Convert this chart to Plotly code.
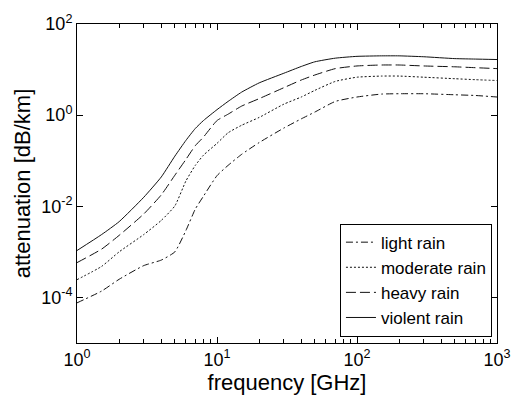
import plotly.graph_objects as go

# Frequency grid [GHz]
freq = [1, 1.5, 2, 3, 4, 5, 6, 7, 8, 10, 12, 15, 20, 30, 40, 50, 70,
        100, 150, 200, 300, 500, 700, 1000]

# Specific attenuation [dB/km] for each rain intensity
light_rain = [7.6e-5, 1.38e-4, 2.5e-4, 5.0e-4, 6.6e-4, 1.0e-3, 2.95e-3, 8.7e-3,
              0.0166, 0.047, 0.079, 0.138, 0.25, 0.52, 0.83, 1.17, 2.0,
              2.5, 2.9, 2.95, 2.95, 2.8, 2.7, 2.5]
moderate_rain = [2.45e-4, 4.8e-4, 1.0e-3, 2.4e-3, 4.9e-3, 0.0102, 0.036, 0.079,
                 0.132, 0.24, 0.41, 0.60, 0.89, 1.74, 2.5, 3.5, 5.5,
                 6.8, 7.2, 7.2, 6.8, 6.3, 6.0, 5.75]
heavy_rain = [5.8e-4, 1.15e-3, 2.3e-3, 6.8e-3, 0.0178, 0.048, 0.107, 0.214,
              0.33, 0.76, 1.05, 1.58, 2.3, 4.0, 5.9, 7.6, 10.5,
              12.0, 12.6, 12.6, 12.0, 11.5, 11.0, 10.5]
violent_rain = [1.07e-3, 2.4e-3, 4.6e-3, 0.0158, 0.044, 0.126, 0.28, 0.51,
                0.76, 1.32, 2.0, 3.2, 5.1, 8.3, 11.7, 14.8, 17.8,
                19.5, 20.0, 20.0, 19.1, 17.4, 17.0, 16.6]

series_names = ["light rain", "moderate rain", "heavy rain", "violent rain"]
series_values = [light_rain, moderate_rain, heavy_rain, violent_rain]
series_dash = ["7px,3px,2px,3px", "2px,2px", "10px,4px", "solid"]

x_tick_vals = [1, 10, 100, 1000]
x_tick_text = ["10<sup>0</sup>", "10<sup>1</sup>", "10<sup>2</sup>", "10<sup>3</sup>"]
y_tick_vals = [1e-4, 1e-2, 1, 100]
y_tick_text = ["10<sup>-4</sup>", "10<sup>-2</sup>", "10<sup>0</sup>", "10<sup>2</sup>"]

x_minor = [m * d for d in (1, 10, 100) for m in range(2, 10)]

FONT = "Liberation Sans, Arial, sans-serif"

fig = go.Figure()
for name, vals, dash in zip(series_names, series_values, series_dash):
    fig.add_trace(go.Scatter(
        x=freq, y=vals, name=name, mode="lines",
        line=dict(color="#111111", width=1, dash=dash, shape="spline", smoothing=0.5),
    ))

axis_common = dict(
    showgrid=False, zeroline=False, automargin=False,
    showline=True, linecolor="black", linewidth=1, mirror="ticks",
    ticks="inside", ticklen=6, tickcolor="black", tickwidth=1,
    tickfont=dict(family=FONT, size=18, color="black"),
)

fig.update_layout(
    width=512, height=396,
    margin=dict(l=77, r=15, t=24, b=53),
    paper_bgcolor="white", plot_bgcolor="white",
    font=dict(family=FONT, color="black"),
    xaxis=dict(
        type="log", range=[0, 3],
        tickmode="array", tickvals=x_tick_vals, ticktext=x_tick_text,
        minor=dict(tickmode="array", tickvals=x_minor, ticks="inside",
                   ticklen=4, tickcolor="black", tickwidth=1),
        title=dict(text="frequency [GHz]", font=dict(family=FONT, size=22), standoff=4),
        **axis_common,
    ),
    yaxis=dict(
        type="log", range=[-5, 2],
        tickmode="array", tickvals=y_tick_vals, ticktext=y_tick_text,
        title=dict(text="attenuation [dB/km]", font=dict(family=FONT, size=22), standoff=4),
        **axis_common,
    ),
    legend=dict(
        x=0.988, y=0.02, xanchor="right", yanchor="bottom",
        bgcolor="white", bordercolor="black", borderwidth=1,
        font=dict(family=FONT, size=17, color="black"),
        tracegroupgap=0, itemwidth=30,
    ),
)

fig.write_html("out.html")
